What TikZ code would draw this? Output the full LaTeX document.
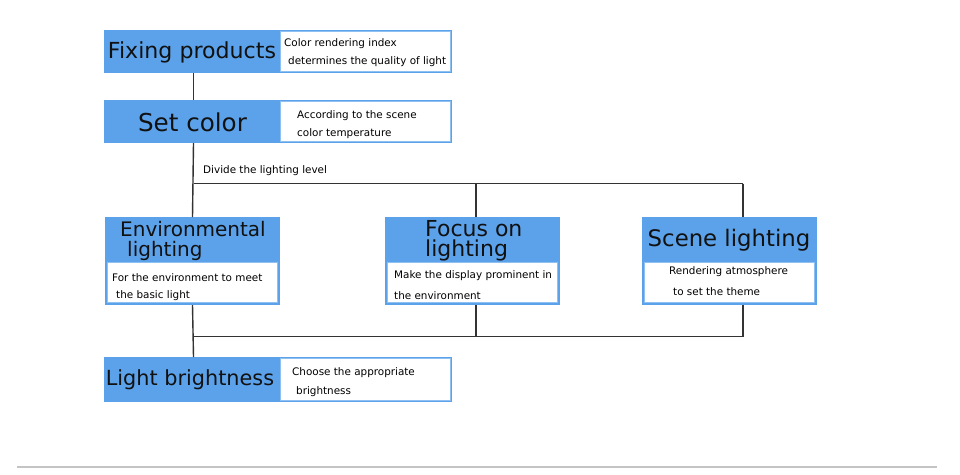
\documentclass[tikz,border=0pt]{standalone}
\usepackage{fontspec}
\setmainfont{DejaVu Sans}
\definecolor{boxblue}{HTML}{5BA2EA}
\definecolor{edgeblue}{HTML}{8EC0F2}
\definecolor{titlecol}{HTML}{111111}
\definecolor{conncol}{HTML}{333333}
\definecolor{rulegray}{HTML}{C4C4C4}
\begin{document}
\begin{tikzpicture}[x=1pt,y=-1pt,
  bluerect/.style={fill=boxblue, draw=none, inner sep=0pt, outer sep=0pt, anchor=north west},
  whiterect/.style={fill=white, draw=edgeblue, line width=0.6pt, inner sep=0pt, outer sep=0pt, anchor=north west},
  titletext/.style={inner sep=0pt, text=titlecol, anchor=base},
  smalltext/.style={inner sep=0pt, anchor=base west, text=black, font=\fontsize{10.4}{12}\selectfont},
  conn/.style={draw=conncol, line width=1.4pt},
]
\useasboundingbox (0,0) rectangle (960,474);

% Fixing products
\node[bluerect, minimum width=348pt, minimum height=43pt] (fix) at (104,30) {};
\node[bluerect, minimum width=177pt, minimum height=43pt] (fixL) at (105,30) {};
\node[whiterect, minimum width=170pt, minimum height=40pt] (fixW) at (280.5,31.5) {};
\node[titletext, font=\fontsize{22.1}{24}\selectfont] (fixT) at (192,58) {Fixing products};
\node[smalltext] (fixS1) at (284,46.5) {Color rendering index};
\node[smalltext] (fixS2) at (288,64.5) {determines the quality of light};

% Set color
\node[bluerect, minimum width=348pt, minimum height=43pt] (set) at (104,100) {};
\node[bluerect, minimum width=177pt, minimum height=43pt] (setL) at (105,100) {};
\node[whiterect, minimum width=170pt, minimum height=40pt] (setW) at (280.5,101.5) {};
\node[titletext, font=\fontsize{24.6}{26}\selectfont] (setT) at (192.5,131) {Set color};
\node[smalltext] (setS1) at (297,118) {According to the scene};
\node[smalltext] (setS2) at (297,136.5) {color temperature};

% Divide label
\node[smalltext] (divT) at (203,173) {Divide the lighting level};

% Environmental lighting
\node[bluerect, minimum width=175pt, minimum height=88pt] (env) at (105,217) {};
\node[whiterect, minimum width=170pt, minimum height=40pt] (envW) at (107.5,262.5) {};
\node[titletext, font=\fontsize{20}{22}\selectfont] (envT1) at (193,236) {Environmental};
\node[titletext, anchor=base west, font=\fontsize{20}{22}\selectfont] (envT2) at (127,256) {lighting};
\node[smalltext] (envS1) at (112,281.5) {For the environment to meet};
\node[smalltext] (envS2) at (116,298.5) {the basic light};

% Focus on lighting
\node[bluerect, minimum width=175pt, minimum height=88pt] (foc) at (385,217) {};
\node[whiterect, minimum width=170pt, minimum height=40pt] (focW) at (387.5,262.5) {};
\node[titletext, anchor=base west, font=\fontsize{22}{24}\selectfont] (focT1) at (425,236) {Focus on};
\node[titletext, anchor=base west, font=\fontsize{22}{24}\selectfont] (focT2) at (425,256) {lighting};
\node[smalltext] (focS1) at (394,278) {Make the display prominent in};
\node[smalltext] (focS2) at (394,299) {the environment};

% Scene lighting
\node[bluerect, minimum width=175pt, minimum height=88pt] (sce) at (642,217) {};
\node[whiterect, minimum width=170pt, minimum height=40pt] (sceW) at (644.5,262.5) {};
\node[titletext, font=\fontsize{22.8}{24}\selectfont] (sceT) at (729,246.5) {Scene lighting};
\node[smalltext] (sceS1) at (669,274) {Rendering atmosphere};
\node[smalltext] (sceS2) at (673,295) {to set the theme};

% Light brightness
\node[bluerect, minimum width=348pt, minimum height=45pt] (lb) at (104,357) {};
\node[bluerect, minimum width=177pt, minimum height=45pt] (lbL) at (105,357) {};
\node[whiterect, minimum width=170pt, minimum height=42pt] (lbW) at (280.5,358.5) {};
\node[titletext, font=\fontsize{20.8}{22}\selectfont] (lbT) at (190,385) {Light brightness};
\node[smalltext] (lbS1) at (292,375.5) {Choose the appropriate};
\node[smalltext] (lbS2) at (296,394.5) {brightness};

% junction coordinates
\coordinate (jL) at (193.5,183.5);
\coordinate (jM) at (476,183.5);
\coordinate (jR) at (743,183.5);
\coordinate (kL) at (193.5,336.5);
\coordinate (kM) at (476,336.5);
\coordinate (kR) at (743,336.5);

% connectors
\draw[conn] (fixL.south) -- (setL.north);
\draw[conn] (setL.south) -- (env.north);
\draw[conn] (jL) -- (jR);
\draw[conn] (jM) -- (jM |- foc.north);
\draw[conn] (jR) -- (jR |- sce.north);
\draw[conn] (env.south) -- (lbL.north);
\draw[conn] (kL) -- (kR);
\draw[conn] (kM |- foc.south) -- (kM);
\draw[conn] (kR |- sce.south) -- (kR);

% bottom rule
\coordinate (ruleA) at (17,467);
\coordinate (ruleB) at (937,467);
\draw[draw=rulegray, line width=1.6pt] (ruleA) -- (ruleB);
\end{tikzpicture}
\end{document}
